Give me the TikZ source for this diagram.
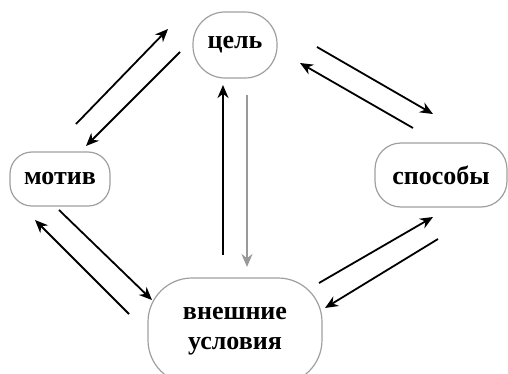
\documentclass[tikz,border=0pt]{standalone}
\usepackage{fontspec}
\setmainfont{Liberation Serif}
\usetikzlibrary{arrows.meta}

\begin{document}
\begin{tikzpicture} [x=.5pt, y=-.5pt,
  blob/.style={draw=gray!75, line width=.6pt, align=center, inner sep=0pt,
    font=\bfseries\fontsize{13}{15}\selectfont},
  arr/.style={-{Stealth[length=6.5pt,width=5.5pt]}, line width=.9pt, black},
  arrgray/.style={arr, gray!80, line width=1.3pt}]
\useasboundingbox (0,0) rectangle (508,374);
\node[blob, rounded corners=16pt, minimum width=42pt, minimum height=33pt] (goal) at (235,45) {цель};
\node[blob, rounded corners=11pt, minimum width=50pt, minimum height=27pt] (motiv) at (60,179) {мотив};
\node[blob, rounded corners=13pt, minimum width=66pt, minimum height=32pt] (ways) at (441,175) {способы};
\node[blob, rounded corners=22pt, minimum width=87pt, minimum height=53pt] (cond) at (235,331) {внешние\\условия};
% free ends of the arrows
\coordinate (mg1) at (76,124);  \coordinate (mg2) at (168,29);
\coordinate (gm1) at (180,52);  \coordinate (gm2) at (86,146);
\coordinate (gw1) at (317,47);  \coordinate (gw2) at (433,114);
\coordinate (wg1) at (413,128); \coordinate (wg2) at (300,63);
\coordinate (cg1) at (223,255); \coordinate (cg2) at (223,85);
\coordinate (gc1) at (247,95);  \coordinate (gc2) at (247,267);
\coordinate (mc1) at (59,210);  \coordinate (mc2) at (152,300);
\coordinate (cm1) at (129,314); \coordinate (cm2) at (35,220);
\coordinate (cw1) at (319,283); \coordinate (cw2) at (433,217);
\coordinate (wc1) at (438,239); \coordinate (wc2) at (325,308);
\foreach \a/\b in {mg1/mg2, gm1/gm2, gw1/gw2, wg1/wg2, cg1/cg2, mc1/mc2, cm1/cm2, cw1/cw2, wc1/wc2}
  \draw[arr] (\a) -- (\b);
\draw[arrgray] (gc1) -- (gc2);
\end{tikzpicture}
\end{document}
